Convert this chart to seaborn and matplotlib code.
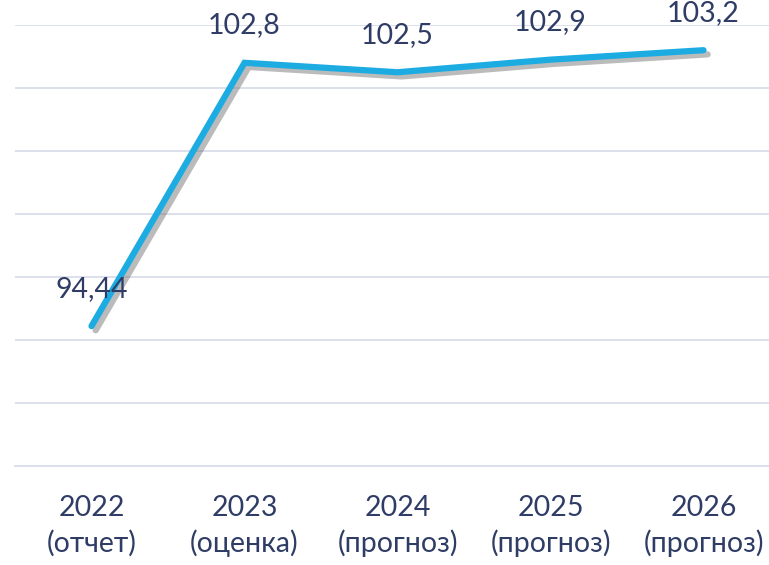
import matplotlib
matplotlib.use("Agg")
import matplotlib.pyplot as plt
import matplotlib.patheffects as pe
import seaborn as sns

# data
years = ["2022", "2023", "2024", "2025", "2026"]
notes = ["(отчет)", "(оценка)", "(прогноз)", "(прогноз)", "(прогноз)"]
values = [94.44, 102.8, 102.5, 102.9, 103.2]
value_labels = ["94,44", "102,8", "102,5", "102,9", "103,2"]

LINE_COLOR = "#1cace2"
TEXT_COLOR = "#2f3d66"
GRID_COLOR = "#d9dcea"

sns.set_style("white")
plt.rcParams['font.family'] = ['Lato', 'DejaVu Sans']

fig = plt.figure(figsize=(7.69, 5.65), dpi=100)
ax = fig.add_axes([15 / 769, 1 - 466 / 565, 765 / 769, 441 / 565])

pos = list(range(len(years)))
sns.lineplot(x=pos, y=values, ax=ax, color=LINE_COLOR, linewidth=4.5,
             solid_capstyle="round", solid_joinstyle="miter",
             path_effects=[pe.SimpleLineShadow(offset=(3, -3), shadow_color="#6a6a6a", alpha=0.45),
                           pe.Normal()])

for x, y, lab in zip(pos, values, value_labels):
    ax.annotate(lab, (x, y), xytext=(0, 27), textcoords="offset points",
                ha="center", va="center", fontsize=20.5, color=TEXT_COLOR)

ax.set_xlim(-0.5, len(years) - 0.5)
ax.set_ylim(90, 104)
ax.set_yticks([90, 92, 94, 96, 98, 100, 102, 104])
ax.set_yticklabels([])
ax.yaxis.grid(True, color=GRID_COLOR, linewidth=1.3)
ax.set_axisbelow(True)

ax.set_xticks(pos)
ax.set_xticklabels([f"{y}\n{n}" for y, n in zip(years, notes)],
                   fontsize=20.5, color=TEXT_COLOR, linespacing=1.38)
ax.set_xticks([p - 0.5 for p in pos] + [len(years) - 0.5], minor=True)
ax.tick_params(axis="x", which="major", length=0, pad=21)
ax.tick_params(axis="x", which="minor", length=8, width=1.3, color=GRID_COLOR)
ax.tick_params(axis="y", length=0)

for s in ["top", "right", "left"]:
    ax.spines[s].set_visible(False)
ax.spines["bottom"].set_color(GRID_COLOR)
ax.spines["bottom"].set_linewidth(1.3)

fig.savefig("out.png", dpi=100)
